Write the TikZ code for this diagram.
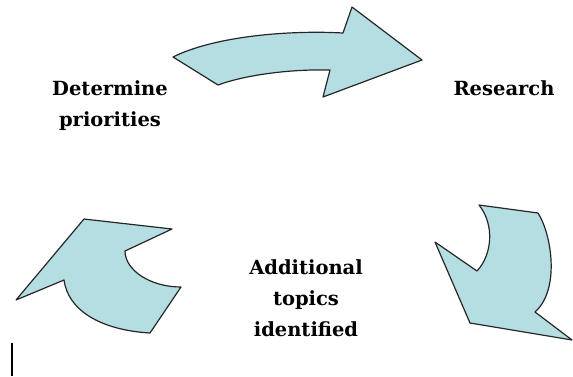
\documentclass[tikz,border=0pt]{standalone}
\usepackage{fontspec}
\setmainfont{DejaVu Serif}
\definecolor{arrowfill}{RGB}{180,222,226}

\begin{document}
\begin{tikzpicture}[x=1pt,y=-1pt,
  bigarrow/.style={fill=arrowfill, draw=black!85, line width=1.2pt, line join=round},
  lbl/.style={font=\fontsize{19.5}{31}\selectfont\bfseries, align=center, inner sep=0pt}]
\useasboundingbox (0,0) rectangle (573,376);

% top arrow, left to right
\draw[bigarrow] (173,57) -- (218,85) .. controls (245,75) and (290,69) .. (330,70)
  -- (323,97) -- (422,60) -- (352,7) -- (343,33)
  .. controls (290,30) and (215,36) .. (173,57) -- cycle;
% right arrow, turning down
\draw[bigarrow] (479,205) -- (538,213) .. controls (552,235) and (560,290) .. (535,312)
  -- (572,340) -- (470,323) -- (435,242) -- (477,271)
  .. controls (492,255) and (495,225) .. (479,205) -- cycle;
% left arrow, turning up
\draw[bigarrow] (16,300) -- (84,219) -- (172,229) -- (125,251)
  .. controls (125,270) and (150,287) .. (181,287) -- (150,333)
  .. controls (100,330) and (68,310) .. (64,280) -- (16,300) -- cycle;

\node[lbl] (prio) at (110,106) {Determine\\priorities};
\node[lbl] (research) at (504,88) {Research};
\node[lbl] (topics) at (306,298) {Additional\\topics\\identified};

\draw[line width=2.5pt] (12,343) -- (12,376);
\end{tikzpicture}
\end{document}
